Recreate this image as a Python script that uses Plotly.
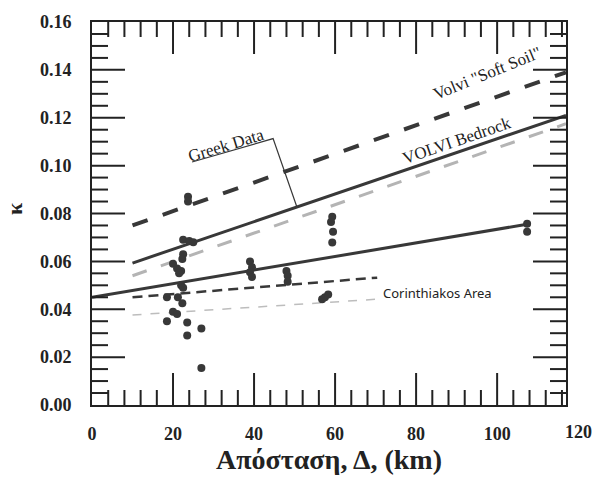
import numpy as np
import plotly.graph_objects as go

# ---- data ----
dist = [23.7, 23.7, 22.5, 24.0, 25.0, 22.5, 22.3, 20.0, 21.0, 22.0, 21.5,
        22.0, 22.5, 18.5, 21.2, 22.3, 20.0, 21.0, 18.5, 23.5, 27.0, 23.5, 27.0,
        39.0, 39.5, 39.0, 39.5, 48.0, 48.3, 48.3,
        59.3, 59.0, 59.5, 59.3, 56.8, 57.5, 58.3, 107.4, 107.4]
kappa = [0.087, 0.085, 0.069, 0.0685, 0.068, 0.063, 0.061, 0.059, 0.057, 0.056, 0.055,
         0.050, 0.049, 0.045, 0.045, 0.0425, 0.039, 0.038, 0.035, 0.0345, 0.032, 0.029, 0.0155,
         0.060, 0.0575, 0.0555, 0.0535, 0.056, 0.054, 0.0515,
         0.0786, 0.0765, 0.0724, 0.0679, 0.0442, 0.045, 0.0462, 0.0757, 0.0724]

soft_soil_x = [10, 117]
soft_soil_y = [0.075, 0.139]
bedrock_x = [10, 117]
bedrock_y = [0.0593, 0.121]
greek_x = [10, 117]
greek_y = [0.054, 0.1175]
fit_x = [0, 107.4]
fit_y = [0.045, 0.0755]
corinth_up_x = [10, 70.4]
corinth_up_y = [0.045, 0.0532]
corinth_lo_x = [10, 70.4]
corinth_lo_y = [0.0376, 0.0442]

# Greek Data label underline + leader
greek_lead_x = [24.7, 44.7, 50.6]
greek_lead_y = [0.1015, 0.1113, 0.0826]

X_MAX = 117
Y_MAX = 0.16
X_MAJOR, X_MINOR = 20, 4
Y_MAJOR, Y_MINOR = 0.02, 0.005
DARK = "#383838"
TICK = "#222222"
SERIF = "Liberation Serif, Times New Roman, serif"

fig = go.Figure()
fig.add_trace(go.Scatter(x=greek_x, y=greek_y, mode="lines",
                         line=dict(color="#b4b4b4", width=3, dash="longdash"), hoverinfo="skip"))
fig.add_trace(go.Scatter(x=corinth_lo_x, y=corinth_lo_y, mode="lines",
                         line=dict(color="#bdbdbd", width=1.5, dash="dash"), hoverinfo="skip"))
fig.add_trace(go.Scatter(x=soft_soil_x, y=soft_soil_y, mode="lines",
                         line=dict(color=DARK, width=4, dash="16px,16px"), hoverinfo="skip"))
fig.add_trace(go.Scatter(x=bedrock_x, y=bedrock_y, mode="lines",
                         line=dict(color=DARK, width=3), hoverinfo="skip"))
fig.add_trace(go.Scatter(x=fit_x, y=fit_y, mode="lines",
                         line=dict(color=DARK, width=3), hoverinfo="skip"))
fig.add_trace(go.Scatter(x=corinth_up_x, y=corinth_up_y, mode="lines",
                         line=dict(color=DARK, width=2.5, dash="10px,6px"), hoverinfo="skip"))
fig.add_trace(go.Scatter(x=greek_lead_x, y=greek_lead_y, mode="lines",
                         line=dict(color=DARK, width=1.2), hoverinfo="skip"))
fig.add_trace(go.Scatter(x=dist, y=kappa, mode="markers",
                         marker=dict(color=DARK, size=8), hoverinfo="skip"))
# empty trace carrying the tick-label axes
fig.add_trace(go.Scatter(x=[], y=[], xaxis="x2", yaxis="y2", hoverinfo="skip"))

tickfont = dict(family=SERIF, size=18, color="#222", weight="bold")
plain = dict(showgrid=False, zeroline=False, showline=False)
xr = dict(range=[0, X_MAX], tickmode="linear", tick0=0)
yr = dict(range=[0, Y_MAX], tickmode="linear", tick0=0)

fig.update_layout(
    xaxis=dict(showline=True, linewidth=2, linecolor=TICK, mirror=True, ticks="",
               showticklabels=False, showgrid=False, zeroline=False, dtick=X_MAJOR, **xr),
    yaxis=dict(showline=True, linewidth=2, linecolor=TICK, mirror=True, ticks="",
               showticklabels=False, showgrid=False, zeroline=False, dtick=Y_MAJOR, **yr),
    xaxis2=dict(overlaying="x", anchor="y2", side="bottom", dtick=X_MAJOR,
                ticks="outside", ticklen=12, tickcolor="rgba(0,0,0,0)", tickfont=tickfont,
                title=dict(text="<b>Απόσταση, Δ, (km)</b>",
                           font=dict(family=SERIF, size=28, color="#222"), standoff=0),
                **xr, **plain),
    yaxis2=dict(overlaying="y", anchor="x2", side="left", tickformat=".2f", dtick=Y_MAJOR,
                ticks="outside", ticklen=16, tickcolor="rgba(0,0,0,0)", tickfont=tickfont,
                **yr, **plain),
)

# inward tick marks on all four sides, positioned on the axis scales (length in pixels)
x_tick_pos = [round(v, 6) for v in np.arange(X_MINOR, X_MAX, X_MINOR)]
y_tick_pos = [round(v, 6) for v in np.arange(Y_MINOR, Y_MAX - 1e-9, Y_MINOR)]
tick_line = dict(color=TICK, width=2)
for v in x_tick_pos:
    length = 32 if abs(v / X_MAJOR - round(v / X_MAJOR)) < 1e-6 else 15
    for anchor, sgn in [(0, 1), (1, -1)]:
        fig.add_shape(type="line", xref="x", x0=v, x1=v, yref="paper", ysizemode="pixel",
                      yanchor=anchor, y0=0, y1=sgn * length, line=tick_line, layer="above")
for v in y_tick_pos:
    length = 33 if abs(v / Y_MAJOR - round(v / Y_MAJOR)) < 1e-6 else 16
    for anchor, sgn in [(0, 1), (1, -1)]:
        fig.add_shape(type="line", yref="y", y0=v, y1=v, xref="paper", xsizemode="pixel",
                      xanchor=anchor, x0=0, x1=sgn * length, line=tick_line, layer="above")

annots = [
    dict(x=120 / X_MAX, y=-28 / 391, xref="paper", yref="paper", text="<b>120</b>",
         showarrow=False, xanchor="center", yanchor="middle", font=tickfont),
    dict(x=-78 / 474, y=(405 - 205) / 391, xref="paper", yref="paper", text="<b>κ</b>",
         textangle=-90, showarrow=False, xanchor="center", yanchor="middle",
         font=dict(family=SERIF, size=22, color="#222")),
    dict(x=33.0, y=0.1085, text="Greek Data", textangle=-17, showarrow=False,
         font=dict(family=SERIF, size=17, color="#222")),
    dict(x=90.1, y=0.1105, text="VOLVI Bedrock", textangle=-19, showarrow=False,
         font=dict(family=SERIF, size=17, color="#222")),
    dict(x=97.5, y=0.1385, text='Volvi "Soft Soil"', textangle=-22, showarrow=False,
         font=dict(family=SERIF, size=17, color="#222")),
    dict(x=85.2, y=0.0466, text="Corinthiakos Area", showarrow=False,
         font=dict(family="Comic Sans MS, Noto Sans, sans-serif", size=13, color="#222")),
]
for a in annots:
    a.setdefault("xref", "x")
    a.setdefault("yref", "y")
    fig.add_annotation(**a)

fig.update_layout(width=597, height=480, showlegend=False,
                  paper_bgcolor="white", plot_bgcolor="white",
                  margin=dict(l=92, r=31, t=14, b=75))
fig.write_html("out.html")
